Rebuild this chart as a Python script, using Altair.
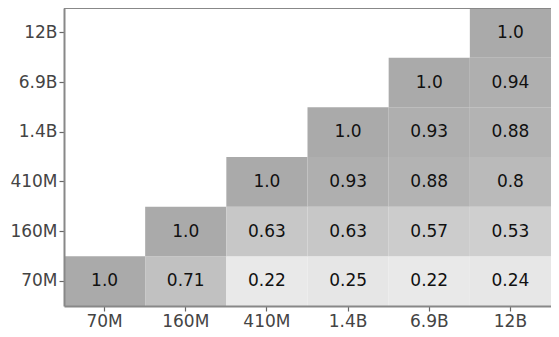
import altair as alt
import pandas as pd

sizes = ["70M", "160M", "410M", "1.4B", "6.9B", "12B"]

row_70M = [1.0, 0.71, 0.22, 0.25, 0.22, 0.24]
row_160M = [1.0, 0.63, 0.63, 0.57, 0.53]
row_410M = [1.0, 0.93, 0.88, 0.8]
row_1_4B = [1.0, 0.93, 0.88]
row_6_9B = [1.0, 0.94]
row_12B = [1.0]

rows = [row_70M, row_160M, row_410M, row_1_4B, row_6_9B, row_12B]

records = []
for i, vals in enumerate(rows):
    for k, v in enumerate(vals):
        records.append({"y": sizes[i], "x": sizes[i + k], "v": v, "label": str(v)})
df = pd.DataFrame(records)

W, H = 487, 298

xenc = alt.X("x:N", scale=alt.Scale(domain=sizes, paddingInner=0, paddingOuter=0),
             axis=alt.Axis(title=None, labelAngle=0))
yenc = alt.Y("y:N", scale=alt.Scale(domain=list(reversed(sizes)), paddingInner=0, paddingOuter=0),
             axis=alt.Axis(title=None))

base = alt.Chart(df)
rect = base.mark_rect().encode(
    x=xenc, y=yenc,
    color=alt.Color("v:Q", scale=alt.Scale(domain=[0, 1], range=["#fbfbfb", "#aaaaaa"]), legend=None),
)
text = base.mark_text(fontSize=17, color="#111111", font="DejaVu Sans").encode(
    x=xenc, y=yenc, text="label:N"
)
top = alt.Chart(pd.DataFrame({"a": [0]})).mark_rule(color="#888888", strokeWidth=2).encode(
    x=alt.value(0), x2=alt.value(W), y=alt.value(0)
)

chart = alt.layer(rect, text, top).properties(
    width=W, height=H,
    autosize=alt.AutoSizeParams(type="none"),
    padding={"left": 56, "top": 0, "right": 0, "bottom": 23},
).configure_view(strokeWidth=0).configure_axis(
    domainColor="#888888", domainWidth=2, tickColor="#666666", tickSize=5, tickWidth=1.2,
    labelFontSize=17, labelColor="#444444", labelFont="DejaVu Sans", labelPadding=2,
    grid=False,
)

chart.save("out.html", embed_options={"renderer": "svg", "actions": False})
